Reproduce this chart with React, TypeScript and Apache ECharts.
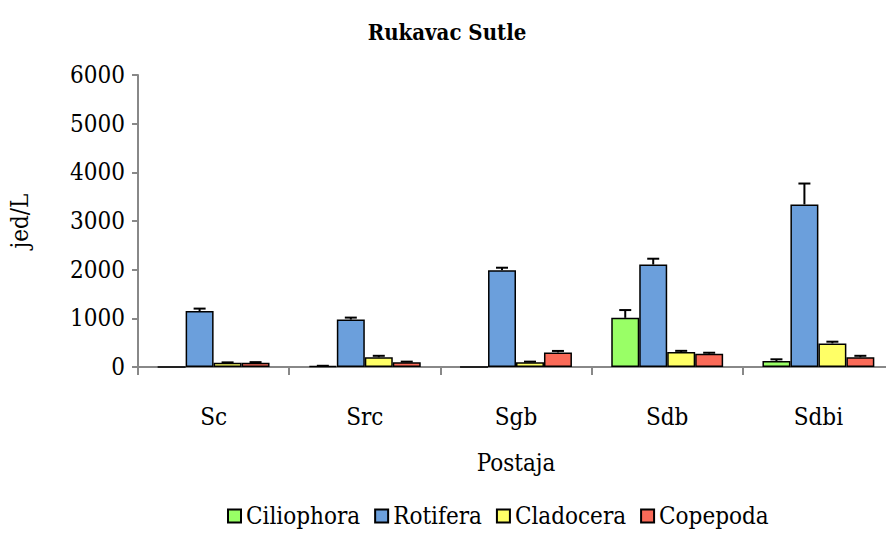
import React, { useEffect, useRef } from "react";
import * as echarts from "echarts";

const categories = ["Sc", "Src", "Sgb", "Sdb", "Sdbi"];
const seriesNames = ["Ciliophora", "Rotifera", "Cladocera", "Copepoda"];
const ciliophora = [0, 20, 0, 1010, 123];
const ciliophoraErr = [0, 5, 0, 160, 35];
const rotifera = [1150, 975, 1990, 2105, 3340];
const rotiferaErr = [50, 40, 50, 120, 430];
const cladocera = [85, 200, 100, 307, 485];
const cladoceraErr = [10, 30, 10, 25, 35];
const copepoda = [85, 100, 300, 273, 200];
const copepodaErr = [15, 10, 30, 20, 30];
const yTicks = [0, 1000, 2000, 3000, 4000, 5000, 6000];
const colors = ["#99ff66", "#6b9fdc", "#ffff66", "#fa6a58"];

const FONT = "DejaVu Serif Condensed";
const FS = 24;
const CAT_GAP = 0.26;

export default function App() {
  const ref = useRef<HTMLDivElement>(null);
  useEffect(() => {
    if (!ref.current) return;
    const chart = echarts.init(ref.current, undefined, { renderer: "svg" });
    const values = [ciliophora, rotifera, cladocera, copepoda];
    const errs = [ciliophoraErr, rotiferaErr, cladoceraErr, copepodaErr];
    const errData: number[][] = [];
    values.forEach((arr, s) => {
      arr.forEach((v, c) => {
        if (errs[s][c] > 0) errData.push([c, v, errs[s][c], s]);
      });
    });
    const barSeries = seriesNames.map((name, i) => ({
      name,
      type: "bar",
      data: values[i],
      barGap: "0%",
      barCategoryGap: CAT_GAP * 100 + "%",
      itemStyle: { color: colors[i], borderColor: "#000", borderWidth: 1.5 },
    }));
    chart.setOption({
      animation: false,
      title: {
        text: "Rukavac Sutle",
        left: "center",
        top: 16,
        textStyle: { fontFamily: FONT, fontWeight: "bold", fontSize: 22, color: "#000" },
      },
      legend: {
        data: seriesNames,
        bottom: 10,
        left: 222,
        itemWidth: 13,
        itemHeight: 13,
        itemGap: 14,
        icon: "rect",
        textStyle: { fontFamily: FONT, fontSize: FS, color: "#000" },
      },
      grid: { left: 133, right: -8, top: 75, bottom: 176, containLabel: false },
      xAxis: {
        type: "category",
        data: categories,
        name: "Postaja",
        nameLocation: "middle",
        nameGap: 84,
        nameTextStyle: { fontFamily: FONT, fontSize: FS, color: "#000" },
        axisLine: { lineStyle: { color: "#888", width: 2 } },
        axisTick: { show: true, length: 8, lineStyle: { color: "#888", width: 2 } },
        axisLabel: { fontFamily: FONT, fontSize: FS, color: "#000", margin: 38 },
      },
      yAxis: {
        type: "value",
        min: 0,
        max: 6000,
        interval: 1000,
        name: "jed/L",
        nameLocation: "middle",
        nameGap: 106,
        nameTextStyle: { fontFamily: FONT, fontSize: FS, color: "#000" },
        axisLine: { show: true, lineStyle: { color: "#888", width: 2 } },
        axisTick: { show: true, length: 6, lineStyle: { color: "#888", width: 2 } },
        splitLine: { show: false },
        axisLabel: {
          fontFamily: FONT,
          fontSize: FS,
          color: "#000",
          margin: 13,
          formatter: (v: number) => (yTicks.includes(v) ? String(v) : ""),
        },
      },
      series: [
        ...barSeries,
        {
          type: "custom",
          name: "err",
          data: errData,
          z: 10,
          encode: { x: 0, y: 1 },
          renderItem: (params: any, api: any) => {
            const c = api.value(0);
            const v = api.value(1);
            const e = api.value(2);
            const s = api.value(3);
            const band = api.size([1, 0])[0];
            const barW = (band * (1 - CAT_GAP)) / 4;
            const base = api.coord([c, v]);
            const top = api.coord([c, v + e]);
            const x = base[0] + (s - 1.5) * barW;
            const cap = 6;
            const style = { stroke: "#000", lineWidth: 2 };
            return {
              type: "group",
              children: [
                { type: "line", shape: { x1: x, y1: base[1], x2: x, y2: top[1] }, style },
                { type: "line", shape: { x1: x - cap, y1: top[1], x2: x + cap, y2: top[1] }, style },
              ],
            };
          },
        },
      ],
    });
    return () => chart.dispose();
  }, []);
  return <div ref={ref} style={{ width: 894, height: 543, margin: -8 }} />;
}
